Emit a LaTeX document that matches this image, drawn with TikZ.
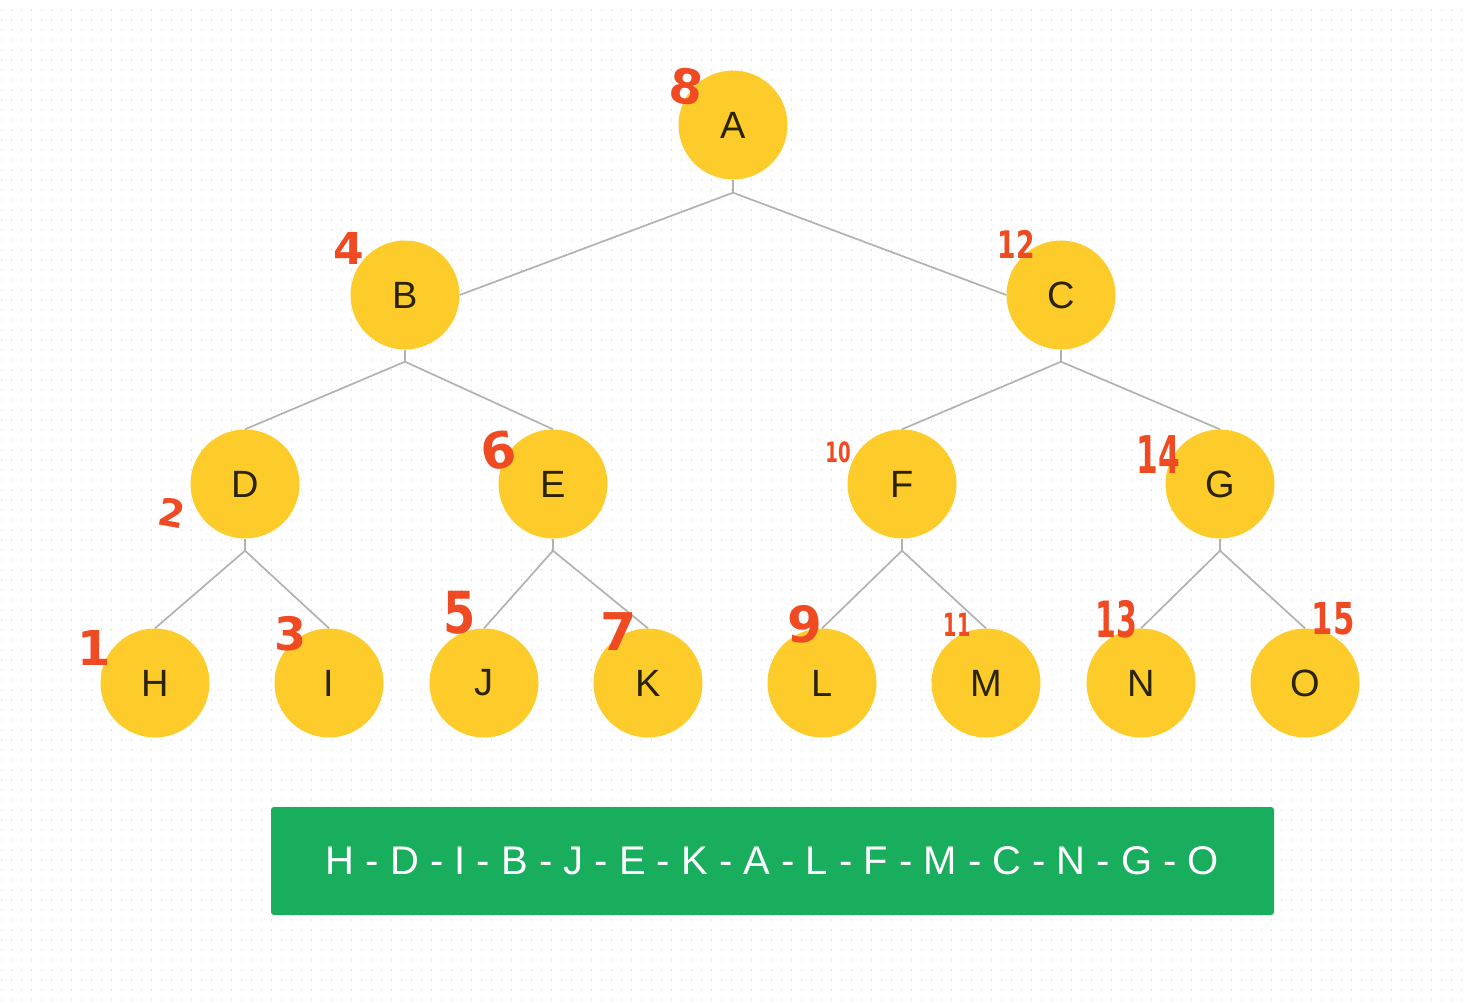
\documentclass[tikz,border=0pt]{standalone}
\usepackage{fontspec}
\setmainfont{Liberation Sans}
\newfontfamily\lblfont{Liberation Sans}
\newfontfamily\numfont{DejaVu Sans}
\definecolor{nodeyellow}{RGB}{253,204,42}
\definecolor{lettercol}{RGB}{43,35,6}
\definecolor{edgegray}{RGB}{178,178,178}
\definecolor{boxgreen}{RGB}{24,174,94}
\definecolor{penred}{RGB}{240,74,35}
\definecolor{dotgray}{RGB}{226,226,226}
\tikzset{
  treenode/.style={circle, fill=nodeyellow, minimum size=109pt, inner sep=0pt,
    font=\lblfont\fontsize{38}{38}\selectfont, text=lettercol},
  edge/.style={draw=edgegray, line width=1.7pt},
  num/.style={text=penred, inner sep=0pt, font=\numfont\fontsize{#1}{#1}\selectfont},
  num/.default=44,
}
\begin{document}
\begin{tikzpicture}[x=1pt,y=-1pt]
\useasboundingbox (0,0) rectangle (1465,1002);
\fill[white] (0,0) rectangle (1465,1002);
% dot grid
\foreach \yy in {10,20,...,1000}{
  \draw[dotgray, line width=1.4pt, dash pattern=on 1.4pt off 8.6pt] (1,\yy) -- (1465,\yy);
}
% nodes
\node[treenode] (A) at (733,125) {A};
\node[treenode] (B) at (405,295) {B};
\node[treenode] (C) at (1061,295) {C};
\node[treenode] (D) at (245,484) {D};
\node[treenode] (E) at (553,484) {E};
\node[treenode] (F) at (902,484) {F};
\node[treenode] (G) at (1220,484) {G};
\node[treenode] (H) at (155,683) {H};
\node[treenode] (I) at (329,683) {I};
\node[treenode] (J) at (484,683) {J};
\node[treenode] (K) at (648,683) {K};
\node[treenode] (L) at (822,683) {L};
\node[treenode] (M) at (986,683) {M};
\node[treenode] (N) at (1141,683) {N};
\node[treenode] (O) at (1305,683) {O};
% connectors
\draw[edge] (A.south) -- ++(0,13) coordinate (Aj);
\draw[edge] (Aj) -- (B.east);
\draw[edge] (Aj) -- (C.west);
\foreach \p/\l/\r in {B/D/E, C/F/G, D/H/I, E/J/K, F/L/M, G/N/O}{
  \draw[edge] (\p.south) -- ++(0,12) coordinate (\p j);
  \draw[edge] (\p j) -- (\l.north);
  \draw[edge] (\p j) -- (\r.north);
}
% result box
\node[fill=boxgreen, rounded corners=3pt, minimum width=1003pt, minimum height=108pt,
  inner sep=0pt, text=white, font=\lblfont\fontsize{40}{40}\selectfont] (R) at (772.5,861)
  {H - D - I - B - J - E - K - A - L - F - M - C - N - G - O};
% handwritten order numbers
\node[num=48, rotate=-8] (n8) at (686,87) {\bfseries 8};
\node[num=44] (n4) at (349,248) {\bfseries 4};
\node[num=38, xscale=0.7] (n12) at (1016,244) {\bfseries 12};
\node[num=38, rotate=-10] (n2) at (172,513) {\bfseries 2};
\node[num=50, rotate=10] (n6) at (498,451) {\bfseries 6};
\node[num=28, xscale=0.65] (n10) at (838,452) {\bfseries 10};
\node[num=52, xscale=0.6] (n14) at (1158,455) {\bfseries 14};
\node[num=48] (n1) at (94,648) {\bfseries 1};
\node[num=46] (n3) at (291,634) {\bfseries 3};
\node[num=58, xscale=0.8] (n5) at (460,613) {\bfseries 5};
\node[num=52] (n7) at (619,632) {\bfseries 7};
\node[num=50] (n9) at (805,624) {\bfseries 9};
\node[num=32, xscale=0.6] (n11) at (957,625) {\bfseries 11};
\node[num=50, xscale=0.6] (n13) at (1116,619) {\bfseries 13};
\node[num=44, xscale=0.7] (n15) at (1333,619) {\bfseries 15};
\end{tikzpicture}
\end{document}
